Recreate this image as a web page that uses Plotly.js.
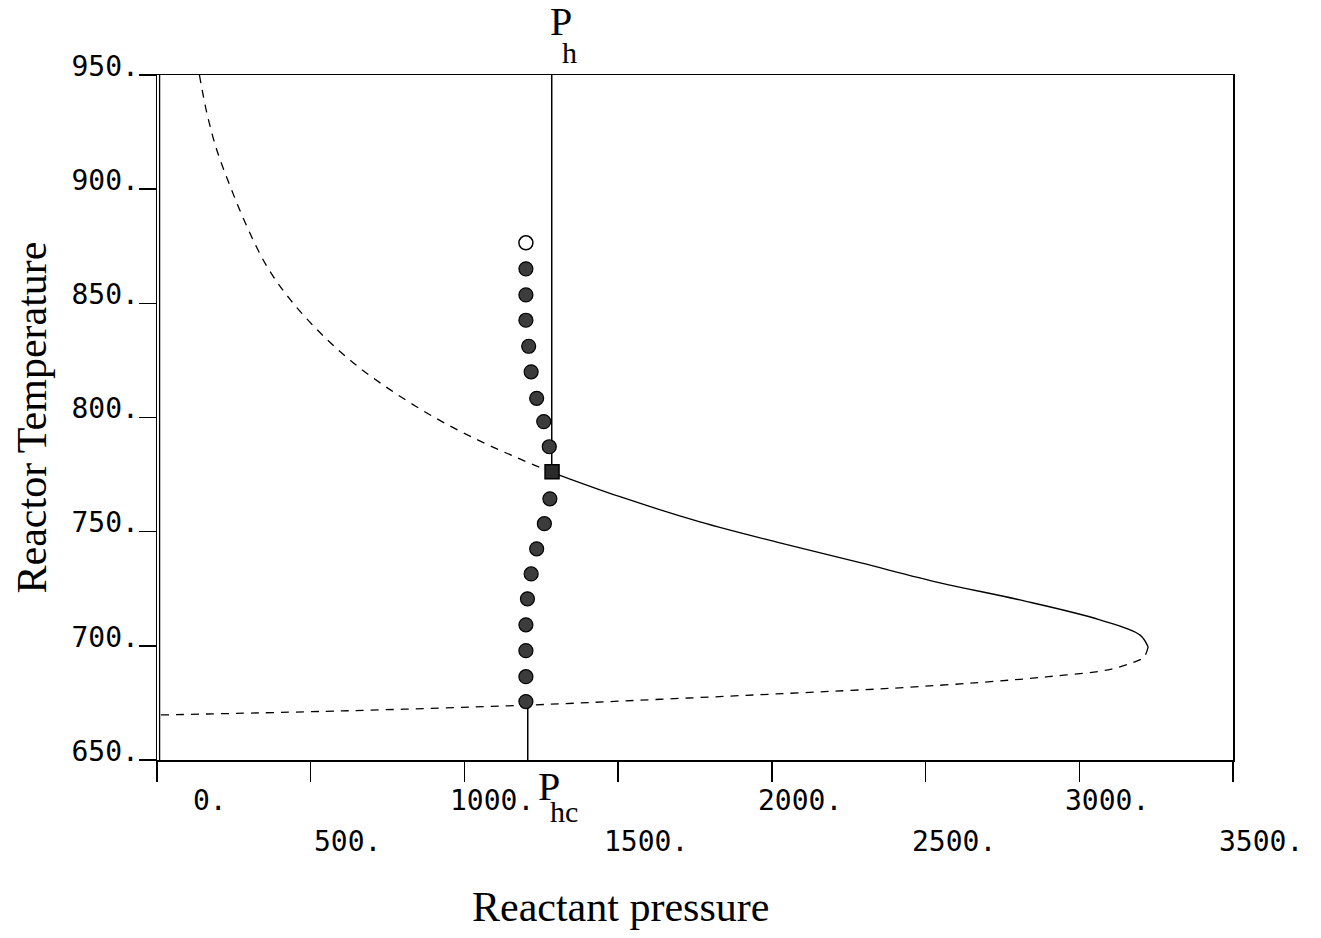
<!DOCTYPE html>
<html>
<head>
<meta charset="utf-8">
<script src="https://cdn.plot.ly/plotly-3.0.1.min.js"></script>
<style>html,body{margin:0;padding:0;background:#fff;}#chart{width:1321px;height:938px;}</style>
</head>
<body>
<div id="chart"></div>
<script>
// ---- data ----
var upperP = [138, 162, 194, 238, 292, 357, 433, 530, 638, 758, 898, 1041, 1171, 1284];
var upperT = [950, 933.5, 917.4, 901.3, 883.8, 866.3, 851.7, 837.2, 824.0, 812.2, 800.4, 790.3, 782.4, 776];
var midP = [1284, 1506, 1766, 2026, 2287, 2547, 2807, 3067, 3197, 3224];
var midT = [776, 765.3, 754.3, 745.1, 736.4, 727.6, 720.1, 711.4, 704.8, 699.5];
var lowP = [3224, 3210, 3170, 3094, 2900, 2681, 2400, 2056, 1639, 1200, 602, 0];
var lowT = [699.5, 695, 692.5, 689.5, 686.5, 684, 681.5, 679.2, 676.6, 674, 671.5, 669.7];
var dotP = [1200, 1200, 1200, 1209, 1217, 1235, 1258, 1276, 1278, 1260, 1235, 1217, 1205, 1200, 1200, 1200, 1200];
var dotT = [865.1, 853.7, 842.6, 831.2, 820.0, 808.4, 798.2, 787.2, 764.4, 753.5, 742.5, 731.5, 720.6, 709.2, 697.9, 686.5, 675.6];
var openP = [1200];
var openT = [876.5];
var squareP = [1285];
var squareT = [776.2];
var Ph = 1284, PhTop = 950, PhBottom = 776.2;
var Phc = 1206, PhcTop = 675.6, PhcBottom = 650;
var xTickVals = [0, 500, 1000, 1500, 2000, 2500, 3000, 3500];
var xTickText = ['0.', '500.', '1000.', '1500.', '2000.', '2500.', '3000.', '3500.'];
var yTickVals = [650, 700, 750, 800, 850, 900, 950];
var yTickText = ['650.', '700.', '750.', '800.', '850.', '900.', '950.'];

var mono = 'DejaVu Sans Mono, monospace';
var serif = 'Liberation Serif, Times New Roman, serif';

var traces = [
  {x: upperP, y: upperT, mode: 'lines', line: {color: '#000', width: 1.3, dash: '8px,7px', shape: 'spline'}, hoverinfo: 'skip'},
  {x: midP, y: midT, mode: 'lines', line: {color: '#000', width: 1.3, shape: 'spline'}, hoverinfo: 'skip'},
  {x: lowP, y: lowT, mode: 'lines', line: {color: '#000', width: 1.3, dash: '8px,7px', shape: 'spline'}, hoverinfo: 'skip'},
  {x: [Ph, Ph], y: [PhTop, PhBottom], mode: 'lines', line: {color: '#000', width: 1.5}, hoverinfo: 'skip'},
  {x: [Phc, Phc], y: [PhcTop, PhcBottom], mode: 'lines', line: {color: '#000', width: 1.5}, hoverinfo: 'skip'},
  {x: dotP, y: dotT, mode: 'markers', marker: {symbol: 'circle', size: 14, color: '#3c3c3c', line: {color: '#000', width: 1.2}}, hoverinfo: 'skip'},
  {x: openP, y: openT, mode: 'markers', marker: {symbol: 'circle', size: 14, color: '#fff', line: {color: '#000', width: 1.5}}, hoverinfo: 'skip'},
  {x: squareP, y: squareT, mode: 'markers', marker: {symbol: 'square', size: 14, color: '#2a2a2a', line: {color: '#000', width: 1.5}}, hoverinfo: 'skip'}
];

var annotations = [];
for (var i = 0; i < xTickVals.length; i++) {
  annotations.push({
    x: xTickVals[i], xref: 'x', y: 0, yref: 'paper',
    text: xTickText[i], showarrow: false, xanchor: 'right', yanchor: 'top',
    xshift: 72, yshift: (i % 2 === 0) ? -22 : -63,
    font: {family: mono, size: 28, color: '#000'}
  });
}
annotations.push({x: Ph, xref: 'x', y: 1, yref: 'paper', text: 'P', showarrow: false,
  xanchor: 'left', yanchor: 'bottom', xshift: -4, yshift: 29, font: {family: serif, size: 40, color: '#000'}});
annotations.push({x: Ph, xref: 'x', y: 1, yref: 'paper', text: 'h', showarrow: false,
  xanchor: 'left', yanchor: 'bottom', xshift: 8, yshift: 4, font: {family: serif, size: 30, color: '#000'}});
annotations.push({x: Phc, xref: 'x', y: 0, yref: 'paper', text: 'P', showarrow: false,
  xanchor: 'left', yanchor: 'top', xshift: 8, yshift: -2, font: {family: serif, size: 40, color: '#000'}});
annotations.push({x: Phc, xref: 'x', y: 0, yref: 'paper', text: 'hc', showarrow: false,
  xanchor: 'left', yanchor: 'top', xshift: 20, yshift: -33, font: {family: serif, size: 30, color: '#000'}});
annotations.push({x: 1508, xref: 'x', y: 0, yref: 'paper', text: 'Reactant pressure', showarrow: false,
  xanchor: 'center', yanchor: 'top', yshift: -122, font: {family: serif, size: 42, color: '#000'}});

var layout = {
  width: 1321, height: 938,
  margin: {l: 157, r: 88, t: 75, b: 178},
  paper_bgcolor: '#fff', plot_bgcolor: '#fff',
  showlegend: false,
  xaxis: {range: [0, 3500], tickvals: xTickVals, showticklabels: false, ticks: 'outside', ticklen: 20, tickwidth: 1.5, tickcolor: '#000',
    showline: true, linecolor: '#000', linewidth: 1.5, mirror: true, showgrid: false, zeroline: false},
  yaxis: {range: [650, 950], tickvals: yTickVals, ticktext: yTickText, ticks: 'outside', ticklen: 17, tickwidth: 1.5, tickcolor: '#000',
    showline: true, linecolor: '#000', linewidth: 1.5, mirror: true, showgrid: false, zeroline: false,
    ticklabelshift: -9, ticklabelstandoff: -6, tickfont: {family: mono, size: 28, color: '#000'},
    title: {text: 'Reactor Temperature', font: {family: serif, size: 42, color: '#000'}, standoff: 12}},
  shapes: [
    {type: 'line', xref: 'x', yref: 'paper', x0: 8.5, x1: 8.5, y0: 0, y1: 1, line: {color: '#000', width: 1.3}}
  ],
  annotations: annotations
};

Plotly.newPlot('chart', traces, layout, {displayModeBar: false, staticPlot: true});
</script>
</body>
</html>
